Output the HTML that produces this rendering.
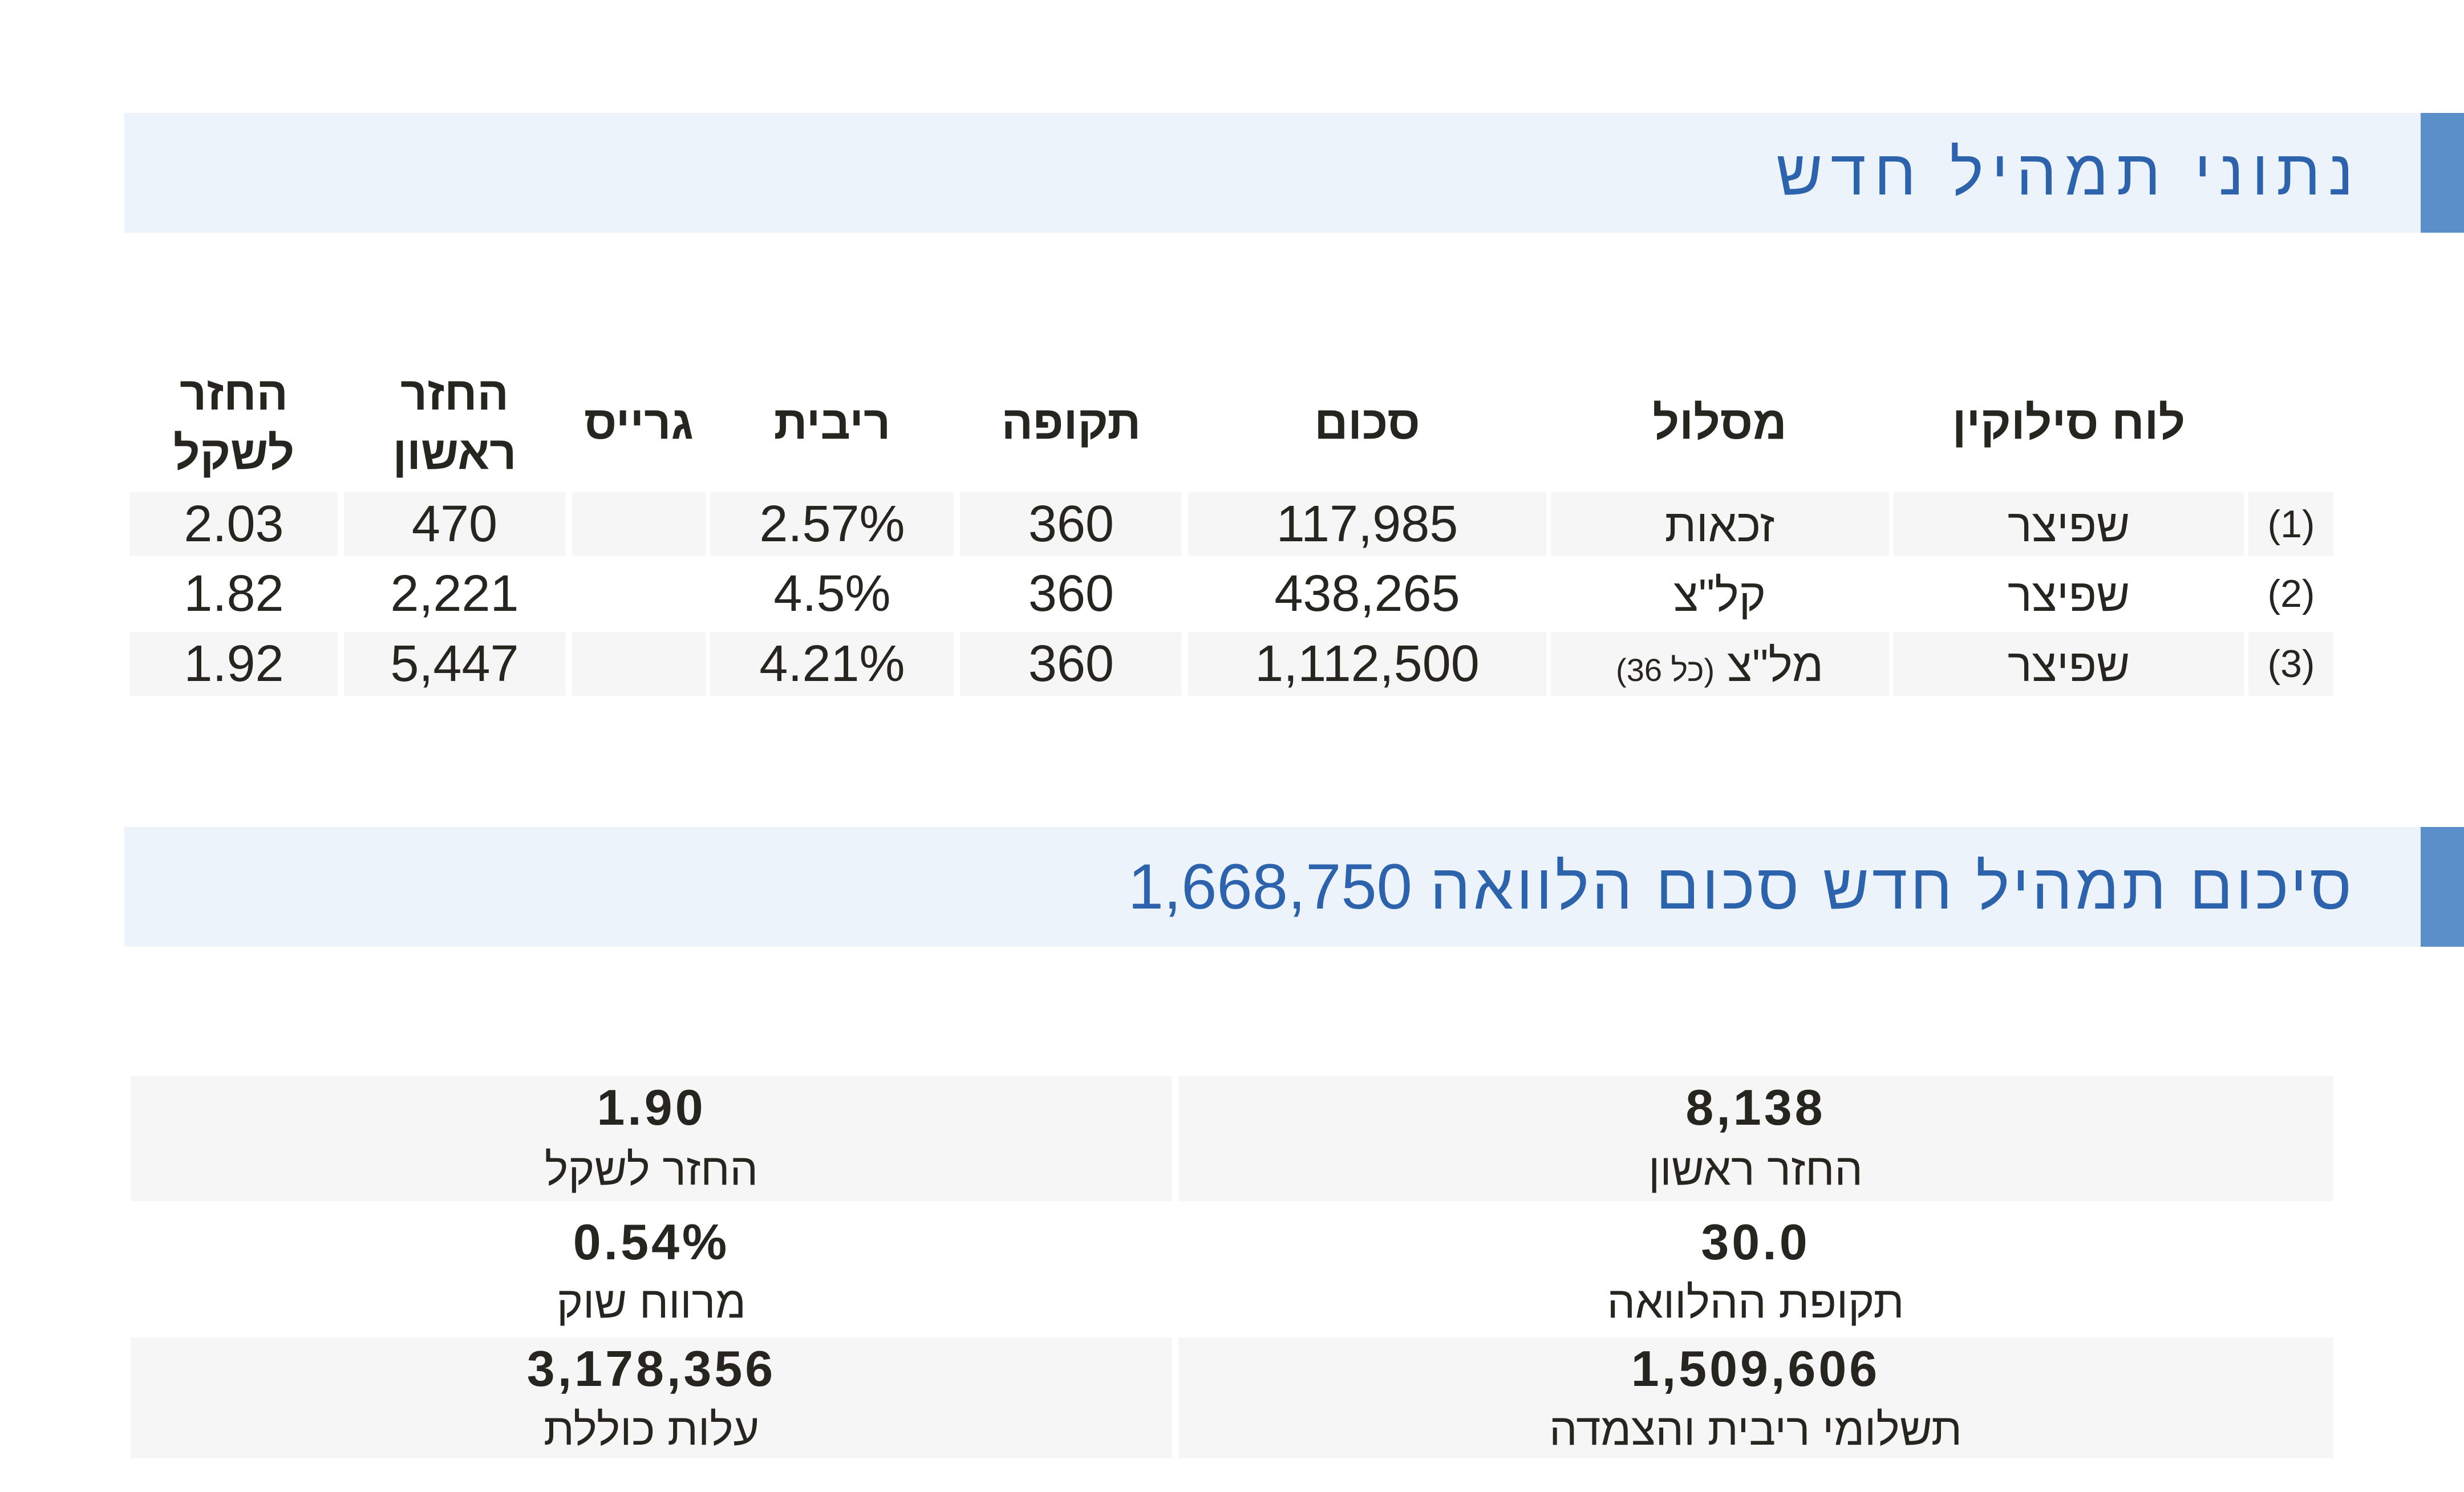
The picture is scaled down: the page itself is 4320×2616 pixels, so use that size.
<!DOCTYPE html>
<html><head><meta charset="utf-8">
<style>
html,body{margin:0;padding:0;background:#fff;}
body{width:4320px;height:2616px;position:relative;overflow:hidden;font-family:"Liberation Sans","DejaVu Sans",sans-serif;color:#27251f;}
.bar{position:absolute;left:218px;width:4026px;height:210px;background:#edf3fb;}
.acc{position:absolute;left:4244px;width:76px;height:210px;background:#5a8fca;}
.title{position:absolute;right:192px;height:210px;line-height:210px;font-size:112px;color:#2c63ac;direction:rtl;white-space:nowrap;}
.cell{position:absolute;background:#f7f6f6;}
.c{position:absolute;width:1000px;height:100px;line-height:100px;text-align:center;white-space:nowrap;}
.r{direction:rtl;}
.h{font-weight:bold;font-size:82px;}
.b{font-size:90px;}
.hb{font-size:80px;}
.n{font-size:68px;}
.sm{font-size:56px;}
.sv{font-size:88px;font-weight:bold;letter-spacing:5px;}
.sl{font-size:78px;}
</style>
</head>
<body>
<!-- Header 1 -->
<div class="bar" style="top:198px"></div>
<div class="acc" style="top:198px"></div>
<div class="title" style="top:198px;letter-spacing:14px;right:180px">נתוני תמהיל חדש</div>

<!-- Table header -->
<div class="c h r" style="left:3127px;top:692px">לוח סילוקין</div>
<div class="c h r" style="left:2515px;top:692px">מסלול</div>
<div class="c h r" style="left:1897px;top:692px">סכום</div>
<div class="c h r" style="left:1378px;top:692px">תקופה</div>
<div class="c h r" style="left:959px;top:692px">ריבית</div>
<div class="c h r" style="left:620px;top:692px">גרייס</div>
<div class="c h r" style="left:297px;top:641px">החזר</div>
<div class="c h r" style="left:297px;top:745px">ראשון</div>
<div class="c h r" style="left:-90px;top:641px">החזר</div>
<div class="c h r" style="left:-90px;top:745px">לשקל</div>

<!-- Row backgrounds (rows 1 and 3) -->
<div class="cell" style="left:3942px;top:863px;width:149px;height:112px"></div>
<div class="cell" style="left:3320px;top:863px;width:614px;height:112px"></div>
<div class="cell" style="left:2719px;top:863px;width:593px;height:112px"></div>
<div class="cell" style="left:2083px;top:863px;width:628px;height:112px"></div>
<div class="cell" style="left:1683px;top:863px;width:389px;height:112px"></div>
<div class="cell" style="left:1245px;top:863px;width:427px;height:112px"></div>
<div class="cell" style="left:1003px;top:863px;width:234px;height:112px"></div>
<div class="cell" style="left:603px;top:863px;width:389px;height:112px"></div>
<div class="cell" style="left:227px;top:863px;width:365px;height:112px"></div>

<div class="cell" style="left:3942px;top:1108px;width:149px;height:112px"></div>
<div class="cell" style="left:3320px;top:1108px;width:614px;height:112px"></div>
<div class="cell" style="left:2719px;top:1108px;width:593px;height:112px"></div>
<div class="cell" style="left:2083px;top:1108px;width:628px;height:112px"></div>
<div class="cell" style="left:1683px;top:1108px;width:389px;height:112px"></div>
<div class="cell" style="left:1245px;top:1108px;width:427px;height:112px"></div>
<div class="cell" style="left:1003px;top:1108px;width:234px;height:112px"></div>
<div class="cell" style="left:603px;top:1108px;width:389px;height:112px"></div>
<div class="cell" style="left:227px;top:1108px;width:365px;height:112px"></div>

<!-- Row 1 -->
<div class="c n" style="left:3517px;top:869px">(1)</div>
<div class="c hb r" style="left:3127px;top:872px">שפיצר</div>
<div class="c hb r" style="left:2515px;top:872px">זכאות</div>
<div class="c b" style="left:1897px;top:869px">117,985</div>
<div class="c b" style="left:1378px;top:869px">360</div>
<div class="c b" style="left:959px;top:869px">2.57%</div>
<div class="c b" style="left:297px;top:869px">470</div>
<div class="c b" style="left:-90px;top:869px">2.03</div>

<!-- Row 2 -->
<div class="c n" style="left:3517px;top:991px">(2)</div>
<div class="c hb r" style="left:3127px;top:994px">שפיצר</div>
<div class="c hb r" style="left:2515px;top:994px">קל"צ</div>
<div class="c b" style="left:1897px;top:991px">438,265</div>
<div class="c b" style="left:1378px;top:991px">360</div>
<div class="c b" style="left:959px;top:991px">4.5%</div>
<div class="c b" style="left:297px;top:991px">2,221</div>
<div class="c b" style="left:-90px;top:991px">1.82</div>

<!-- Row 3 -->
<div class="c n" style="left:3517px;top:1114px">(3)</div>
<div class="c hb r" style="left:3127px;top:1117px">שפיצר</div>
<div class="c hb r" style="left:2515px;top:1117px">מל"צ <span class="sm">(כל 36)</span></div>
<div class="c b" style="left:1897px;top:1114px">1,112,500</div>
<div class="c b" style="left:1378px;top:1114px">360</div>
<div class="c b" style="left:959px;top:1114px">4.21%</div>
<div class="c b" style="left:297px;top:1114px">5,447</div>
<div class="c b" style="left:-90px;top:1114px">1.92</div>

<!-- Header 2 -->
<div class="bar" style="top:1450px"></div>
<div class="acc" style="top:1450px"></div>
<div class="title" style="top:1450px"><span style="letter-spacing:5px">סיכום תמהיל חדש סכום הלוואה</span> 1,668,750</div>

<!-- Summary backgrounds -->
<div class="cell" style="left:229px;top:1887px;width:1826px;height:219px"></div>
<div class="cell" style="left:2066px;top:1887px;width:2025px;height:219px"></div>
<div class="cell" style="left:229px;top:2345px;width:1826px;height:212px"></div>
<div class="cell" style="left:2066px;top:2345px;width:2025px;height:212px"></div>

<!-- Summary row 1 -->
<div class="c sv" style="left:2578px;top:1892px">8,138</div>
<div class="c sl r" style="left:2578px;top:2000px">החזר ראשון</div>
<div class="c sv" style="left:642px;top:1892px">1.90</div>
<div class="c sl r" style="left:642px;top:2000px">החזר לשקל</div>

<!-- Summary row 2 -->
<div class="c sv" style="left:2578px;top:2128px">30.0</div>
<div class="c sl r" style="left:2578px;top:2233px">תקופת ההלוואה</div>
<div class="c sv" style="left:642px;top:2128px">0.54%</div>
<div class="c sl r" style="left:642px;top:2233px">מרווח שוק</div>

<!-- Summary row 3 -->
<div class="c sv" style="left:2578px;top:2350px">1,509,606</div>
<div class="c sl r" style="left:2578px;top:2456px">תשלומי ריבית והצמדה</div>
<div class="c sv" style="left:642px;top:2350px">3,178,356</div>
<div class="c sl r" style="left:642px;top:2456px">עלות כוללת</div>
</body></html>
